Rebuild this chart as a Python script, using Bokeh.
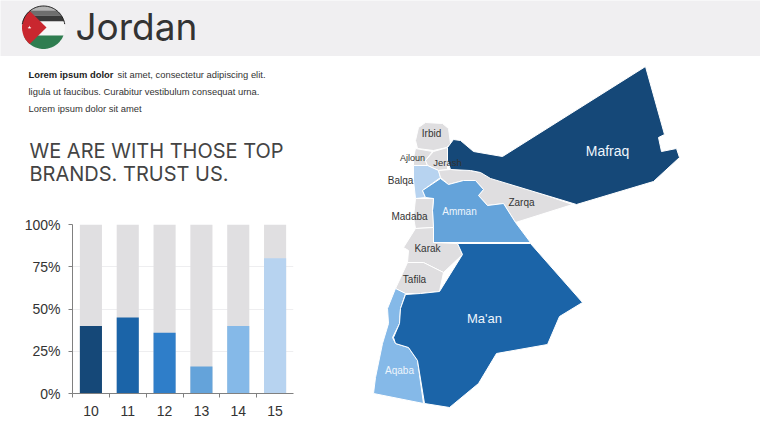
import numpy as np
from bokeh.core.properties import value
from bokeh.embed import file_html
from bokeh.layouts import column, row
from bokeh.models import ColumnDataSource, FixedTicker, PrintfTickFormatter, Range1d
from bokeh.plotting import figure
from bokeh.resources import INLINE

# --- bar chart data
years = ["10", "11", "12", "13", "14", "15"]
shares = [40, 45, 36, 16, 40, 80]
full_scale = [100, 100, 100, 100, 100, 100]
bar_colors = ["#154878", "#1b64a8", "#2f7ec9", "#64a3da", "#85b9e8", "#b7d3f0"]
y_ticks = [0, 25, 50, 75, 100]

# --- map data, traced outlines
region_names = ["Irbid", "Ajloun", "Jerash", "Balqa", "Zarqa", "Amman", "Madaba", "Karak", "Tafila", "Aqaba", "Ma'an", "Mafraq"]
region_colors = ["#dfdee0", "#dfdee0", "#dfdee0", "#b7d3f0", "#dfdee0", "#64a3da", "#dfdee0", "#dfdee0", "#dfdee0", "#85b9e8", "#1b64a8", "#154878"]
irbid = [(425,122),(442,123),(448,128),(450,143),(446,147),(433,150),(417,148),(415,140),(418,127)]
ajloun = [(415,148),(432,151),(425,160),(427,165),(413,165),(413,157)]
jerash = [(433,151),(447,147),(447,169),(438,170),(427,165),(425,160)]
balqa = [(413,165),(427,165),(438,170),(440,177),(422,190),(425,197),(415,198),(413,180)]
zarqa = [(438,170),(450,169),(470,170),(480,172),(572,204),(515,222),(503,203),(487,205),(478,195),(483,189),(475,180),(463,180),(448,184),(440,177)]
amman = [(440,178),(448,184),(463,180),(475,180),(483,189),(478,195),(487,205),(503,203),(515,222),(530,242),(433,242),(432,210),(433,198),(425,197),(422,190)]
madaba = [(415,198),(433,198),(432,210),(433,227),(415,228),(413,217)]
karak = [(415,228),(433,227),(433,242),(457,243),(462,254),(443,272),(423,262),(407,262),(408,250),(403,247)]
tafila = [(407,262),(423,262),(443,272),(439,291),(420,293),(405,293),(395,288),(402,273)]
aqaba = [(395,288),(405,293),(400,308),(399,323),(392,337),(395,343),(408,347),(417,360),(423,403),(373,393),(375,377),(382,343),(388,323),(387,308)]
maan = [(457,243),(530,243),(582,302),(559,316),(547,344),(496,353),(478,383),(449,407),(424,403),(417,360),(408,347),(395,343),(393,337),(399,323),(400,308),(405,294),(420,293),(439,291),(462,254)]
mafraq = [(645,66),(664,134),(658,137),(661,151),(676,148),(679,157),(653,181),(576,204),(490,178),(480,172),(470,170),(450,169),(447,160),(447,147),(453,139),(460,140),(473,151),(502,156)]
region_shapes = [irbid, ajloun, jerash, balqa, zarqa, amman, madaba, karak, tafila, aqaba, maan, mafraq]

label_names = ["Mafraq", "Ma'an", "Zarqa", "Amman", "Aqaba", "Irbid", "Ajloun", "Jerash", "Balqa", "Madaba", "Karak", "Tafila"]
label_x = [607, 484, 521, 459, 399, 431, 412, 447, 400, 409, 427, 414]
label_y = [150, 318, 202, 211, 370, 133, 157, 162, 180, 216, 248, 279]
label_colors = ["#eef5fc", "#eef5fc", "#333333", "#eef5fc", "#eef5fc", "#333333", "#333333", "#333333", "#333333", "#333333", "#333333", "#333333"]
label_sizes = ["14px", "13px", "10px", "10px", "10px", "10px", "9px", "9.5px", "10px", "10px", "10px", "10px"]

SANS = "Liberation Sans"
HEAD = "Inter"


def blank(w, h, xr, yr, fill="white", **kw):
    f = figure(width=w, height=h, x_range=Range1d(*xr), y_range=Range1d(*yr),
               x_axis_location=None, y_axis_location=None, toolbar_location=None,
               output_backend="svg", min_border=0, outline_line_color=None, frame_align=False,
               background_fill_color=fill, border_fill_color=fill, **kw)
    f.grid.visible = False
    return f


# --- header
head = blank(760, 56, (0, 760), (56, 0), fill="#f0eff1")
cx, cy, r = 43, 27, 21.5


def band(y0, y1):
    t0, t1 = np.arcsin((y0 - cy) / r), np.arcsin((y1 - cy) / r)
    t = np.linspace(t0, t1, 30)
    return (list(cx + r * np.cos(t)) + list(cx - r * np.cos(t[::-1])),
            list(cy + r * np.sin(t)) + list(cy + r * np.sin(t[::-1])))


for y0, y1, col in [(5.5, 10, "#b4b4b4"), (10, 15, "#6e6e6e"), (15, 21, "#3a3a3a"), (21, 35, "#f6f6f6"), (35, 48.5, "#2f7d50")]:
    xs, ys = band(y0, y1)
    head.patch(xs, ys, fill_color=col, line_color=None)
a = np.linspace(np.pi * 0.72, np.pi * 1.28, 30)
head.patch(list(cx + r * np.cos(a)) + [46], list(cy + r * np.sin(a)) + [27], fill_color="#c9272f", line_color=None)
head.scatter([29], [27], marker="star", size=4, fill_color="white", line_color=None)
th = np.linspace(np.pi * 1.05, np.pi * 1.95, 40)
head.line(cx + r * np.cos(th), cy + r * np.sin(th), line_color="#222222", line_width=1)
head.text([75], [26], text=["Jordan"], text_font=value(HEAD), text_font_size="37px",
          text_color="#333333", text_baseline="middle", text_align="left")

# --- left text block
txt = blank(360, 156, (0, 360), (212, 56))
txt.text([28], [74], text=["Lorem ipsum dolor"], text_font=value(SANS), text_font_style="bold", text_font_size="9.4px",
         text_color="#222222", text_baseline="middle")
txt.text([117, 28, 28], [74, 91, 108],
         text=["sit amet,  consectetur  adipiscing elit.", "ligula ut faucibus.  Curabitur vestibulum  consequat urna.", "Lorem ipsum dolor sit amet"],
         text_font=value(SANS), text_font_size="9.4px", text_color="#333333", text_baseline="middle")
txt.text([29, 29], [150, 173], text=["WE ARE WITH THOSE TOP", "BRANDS. TRUST US."], text_font=value(HEAD),
         text_font_size="20px", text_color="#444444", text_baseline="middle")

# --- bar chart
pos = [i + 0.5 for i in range(len(years))]
bars = figure(width=360, height=216, x_range=Range1d(0, 6), y_range=Range1d(0, 100), toolbar_location=None,
              output_backend="svg", min_border_left=72, min_border_right=67, min_border_top=12, min_border_bottom=35,
              outline_line_color=None, frame_align=False)
src = ColumnDataSource(dict(x=pos, back=full_scale, v=shares, c=bar_colors))
bars.vbar(x="x", top="back", width=0.6, source=src, fill_color="#e0dfe1", line_color=None)
bars.vbar(x="x", top="v", width=0.6, source=src, fill_color="c", line_color=None)
bars.xgrid.visible = False
bars.ygrid.ticker = FixedTicker(ticks=y_ticks)
bars.ygrid.grid_line_color = "#eeeef0"
bars.xaxis.ticker = FixedTicker(ticks=pos, minor_ticks=list(range(6)))
bars.xaxis.major_label_overrides = dict(zip(pos, years))
bars.xaxis.major_tick_line_color = None
bars.xaxis.minor_tick_in = 0
bars.xaxis.minor_tick_out = 4
bars.xaxis.major_label_standoff = 6
bars.yaxis.ticker = FixedTicker(ticks=y_ticks)
bars.yaxis.formatter = PrintfTickFormatter(format="%d%%")
bars.yaxis.major_tick_in = 0
bars.yaxis.major_tick_out = 4
bars.yaxis.minor_tick_line_color = None
bars.yaxis.major_label_standoff = 8
for ax in (bars.xaxis, bars.yaxis):
    ax.axis_line_color = "#808080"
    ax.axis_line_width = 1
    ax.major_label_text_font = SANS
    ax.major_label_text_font_size = "14px"
    ax.major_label_text_color = "#333333"
bars.xaxis.minor_tick_line_color = "#808080"
bars.yaxis.major_tick_line_color = "#808080"

# --- map
mp = blank(400, 372, (360, 760), (428, 56))
mp.patches([[q[0] for q in s] for s in region_shapes], [[q[1] for q in s] for s in region_shapes],
           fill_color=region_colors, line_color="#ffffff", line_width=1)
mp.text(label_x, label_y, text=label_names, text_font=value(SANS), text_font_size=label_sizes, text_color=label_colors,
        text_align="center", text_baseline="middle")

page = column(head, row(column(txt, bars), mp))
open("out.html", "w").write(file_html(page, INLINE))
